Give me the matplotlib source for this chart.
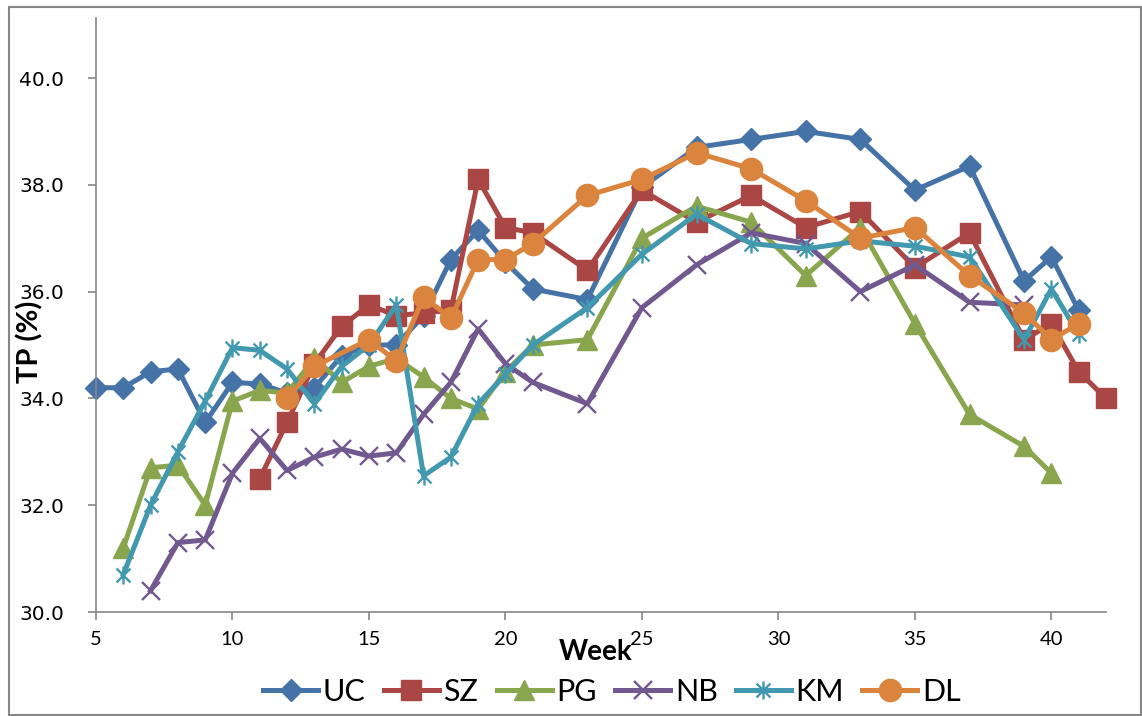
import matplotlib
matplotlib.use('Agg')
import matplotlib.pyplot as plt
from matplotlib.path import Path
from matplotlib.patches import Rectangle

# weeks and TP values per herd
uc_weeks = list(range(5, 22)) + list(range(23, 40, 2)) + [40, 41]
uc_vals = [34.2, 34.2, 34.5, 34.55, 33.55, 34.3, 34.27, 34.1, 34.2, 34.8, 35.0, 35.0, 35.55, 36.6, 37.15, 36.55, 36.05,
           35.85, 37.95, 38.7, 38.85, 39.0, 38.85, 37.9, 38.35, 36.2,
           36.65, 35.65]

sz_weeks = list(range(11, 22)) + list(range(23, 38, 2)) + [39, 40, 41, 42]
sz_vals = [32.5, 33.55, 34.65, 35.35, 35.75, 35.55, 35.6, 35.65, 38.1, 37.2, 37.1,
           36.4, 37.9, 37.3, 37.8, 37.2, 37.5, 36.45, 37.1,
           35.1, 35.4, 34.5, 34.0]

pg_weeks = list(range(6, 22)) + list(range(23, 38, 2)) + [39, 40]
pg_vals = [31.2, 32.7, 32.75, 32.0, 33.95, 34.15, 34.1, 34.75, 34.3, 34.6, 34.75, 34.4, 34.0, 33.8, 34.5, 35.0,
           35.1, 37.0, 37.6, 37.3, 36.3, 37.2, 35.4, 33.7,
           33.1, 32.6]

nb_weeks = list(range(7, 22)) + list(range(23, 40, 2))
nb_vals = [30.4, 31.3, 31.35, 32.6, 33.25, 32.65, 32.9, 33.05, 32.92, 32.98, 33.7, 34.3, 35.3, 34.65, 34.3,
           33.9, 35.7, 36.5, 37.1, 36.9, 36.0, 36.5, 35.8, 35.75]

km_weeks = list(range(6, 22)) + list(range(23, 40, 2)) + [40, 41]
km_vals = [30.7, 32.0, 33.0, 33.95, 34.95, 34.9, 34.55, 33.9, 34.6, 35.0, 35.75, 32.55, 32.9, 33.9, 34.45, 35.0,
           35.7, 36.7, 37.45, 36.9, 36.8, 36.95, 36.85, 36.65, 35.1,
           36.05, 35.2]

dl_weeks = [12, 13, 15, 16, 17, 18, 19, 20, 21] + list(range(23, 40, 2)) + [40, 41]
dl_vals = [34.0, 34.6, 35.1, 34.7, 35.9, 35.5, 36.6, 36.6, 36.9,
           37.8, 38.1, 38.6, 38.3, 37.7, 37.0, 37.2, 36.3, 35.6,
           35.1, 35.4]

names = ['UC', 'SZ', 'PG', 'NB', 'KM', 'DL']
y_ticks = [30, 32, 34, 36, 38, 40]
x_ticks = [5, 10, 15, 20, 25, 30, 35, 40]

# excel style "star" marker: an x with a vertical bar
star = Path([(-1, -1), (1, 1), (-1, 1), (1, -1), (0, -1.3), (0, 1.3)],
            [Path.MOVETO, Path.LINETO, Path.MOVETO, Path.LINETO, Path.MOVETO, Path.LINETO])

styles = [
    dict(color='#4572A7', marker='D', ms=11),
    dict(color='#AA4643', marker='s', ms=14),
    dict(color='#89A54E', marker='^', ms=15),
    dict(color='#71588F', marker='x', ms=13, mew=1.7),
    dict(color='#4198AF', marker=star, ms=13, mew=1.7),
    dict(color='#DB843D', marker='o', ms=16),
]

fig = plt.figure(figsize=(11.42, 7.16), dpi=100)
ax = fig.add_axes([96 / 1142, 1 - 612 / 716, 1010 / 1142, 594 / 716])

series = [(uc_weeks, uc_vals), (sz_weeks, sz_vals), (pg_weeks, pg_vals),
          (nb_weeks, nb_vals), (km_weeks, km_vals), (dl_weeks, dl_vals)]
for (w, v), name, st in zip(series, names, styles):
    ax.plot(w, v, label=name, lw=3.6, clip_on=False, **st)

ax.set_xlim(5, 42)
ax.set_ylim(30, 30 + 594 / 53.4)
ax.set_xticks(x_ticks)
ax.set_yticks(y_ticks)
ax.set_yticklabels(['%.1f' % t for t in y_ticks], family='DejaVu Sans', fontsize=14.5)
ax.set_xticklabels([str(t) for t in x_ticks], family='Lato', fontsize=14.5)

for s in ['top', 'right']:
    ax.spines[s].set_visible(False)
for s in ['left', 'bottom']:
    ax.spines[s].set_color('#868686')
    ax.spines[s].set_linewidth(1.2)
ax.tick_params(axis='y', direction='out', length=6, width=1.2, color='#868686', pad=17)
ax.tick_params(axis='x', direction='out', length=6, width=1.2, color='#868686', pad=8)

fig.text(30 / 1142, 1 - 342 / 716, 'TP (%)', rotation=90, ha='center', va='center',
         family='Lato', fontweight='bold', fontsize=21)
fig.text(596 / 1142, 1 - 652 / 716, 'Week', ha='center', va='center',
         family='Lato', fontweight='bold', fontsize=20)

leg = fig.legend(loc='center', bbox_to_anchor=(612 / 1142, 1 - 692 / 716), ncol=6, frameon=False,
                 prop={'family': 'Lato', 'size': 22}, handlelength=1.8, handletextpad=0.15,
                 columnspacing=0.6, borderpad=0, borderaxespad=0)

# outer chart frame
fig.patches.append(Rectangle((9 / 1142, 1 / 716), 1132 / 1142, 708 / 716, transform=fig.transFigure,
                             fill=False, edgecolor='#868686', lw=1.5))

fig.savefig('out.png', dpi=100)
